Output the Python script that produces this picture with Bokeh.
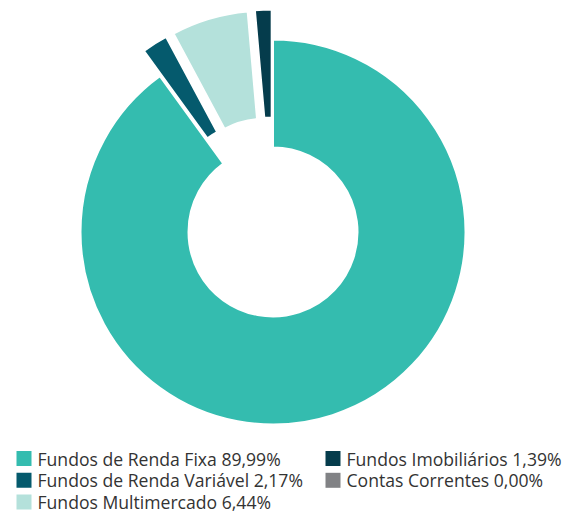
import math
from bokeh.plotting import figure
from bokeh.models import Range1d, ColumnDataSource
from bokeh.core.properties import value
from bokeh.embed import file_html
from bokeh.resources import INLINE

labels = ["Fundos de Renda Fixa 89,99%", "Fundos de Renda Variável 2,17%",
          "Fundos Multimercado 6,44%", "Fundos Imobiliários 1,39%",
          "Contas Correntes 0,00%"]
values = [89.99, 2.17, 6.44, 1.39, 0.00]
colors = ["#34BCAF", "#055A6D", "#B4E1DB", "#053C4C", "#818285"]
explode = [0, 30, 30, 30, 30]

W, H = 575, 513
cx, cy = 272.5, H - 231.5
R_out, R_in = 192.5, 84.5

p = figure(width=W, height=H, output_backend="svg", toolbar_location=None,
           x_range=Range1d(0, W), y_range=Range1d(0, H), min_border=0)
p.axis.visible = False
p.grid.visible = False
p.outline_line_color = None
p.background_fill_color = "white"
p.border_fill_color = "white"

total = sum(values)
xs, ys, sa, ea, cs = [], [], [], [], []
cum = 0.0
for v, off, col in zip(values, explode, colors):
    a0 = math.pi / 2 - cum / total * 2 * math.pi
    cum += v
    a1 = math.pi / 2 - cum / total * 2 * math.pi
    if v <= 0:
        continue
    mid = (a0 + a1) / 2
    xs.append(cx + off * math.cos(mid))
    ys.append(cy + off * math.sin(mid))
    sa.append(a0)
    ea.append(a1)
    cs.append(col)

src = ColumnDataSource(dict(x=xs, y=ys, sa=sa, ea=ea, color=cs))
p.annular_wedge(x="x", y="y", inner_radius=R_in, outer_radius=R_out,
                start_angle="sa", end_angle="ea", direction="clock",
                fill_color="color", line_color="white", line_width=2,
                source=src)

# legend (column-major, 3 rows)
colx = [16, 325]
row_top, rowh = H - 458, 21.8
leg_x, leg_y = [], []
for i in range(len(labels)):
    c, r = divmod(i, 3)
    leg_x.append(colx[c])
    leg_y.append(row_top - r * rowh)
lsrc = ColumnDataSource(dict(x=[x + 7.5 for x in leg_x], tx=[x + 21 for x in leg_x],
                             y=leg_y, color=colors, label=labels))
p.rect(x="x", y="y", width=15, height=15, fill_color="color", line_color=None, source=lsrc)
p.text(x="tx", y="y", text="label", text_font=value("Open Sans"), text_font_size="17.6px",
       text_color="#333333", text_baseline="middle", source=lsrc)

open("out.html", "w").write(file_html(p, INLINE))
